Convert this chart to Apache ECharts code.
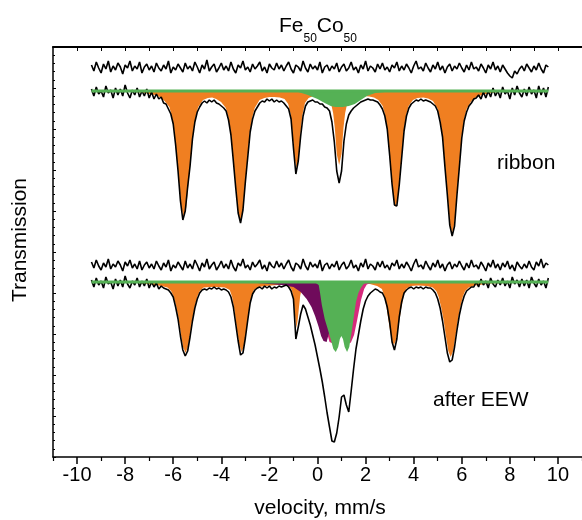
<!DOCTYPE html>
<html>
<head>
<meta charset="utf-8">
<script src="https://cdn.jsdelivr.net/npm/echarts@6/dist/echarts.min.js"></script>
<style>
html,body{margin:0;padding:0;background:#fff;}
#chart{width:582px;height:520px;}
</style>
</head>
<body>
<div id="chart"></div>
<script>
// ---------------- DATA ----------------
// channel velocities (mm/s)
const velocity = [
-9.4,-9.3,-9.2,-9.1,-9.0,-8.9,-8.8,-8.7,-8.6,-8.5,
-8.4,-8.3,-8.2,-8.1,-8.0,-7.9,-7.8,-7.7,-7.6,-7.5,
-7.4,-7.3,-7.2,-7.1,-7.0,-6.9,-6.8,-6.7,-6.6,-6.5,
-6.4,-6.3,-6.2,-6.1,-6.0,-5.9,-5.8,-5.7,-5.6,-5.5,
-5.4,-5.3,-5.2,-5.1,-5.0,-4.9,-4.8,-4.7,-4.6,-4.5,
-4.4,-4.3,-4.2,-4.1,-4.0,-3.9,-3.8,-3.7,-3.6,-3.5,
-3.4,-3.3,-3.2,-3.1,-3.0,-2.9,-2.8,-2.7,-2.6,-2.5,
-2.4,-2.3,-2.2,-2.1,-2.0,-1.9,-1.8,-1.7,-1.6,-1.5,
-1.4,-1.3,-1.2,-1.1,-1.0,-0.9,-0.8,-0.7,-0.6,-0.5,
-0.4,-0.3,-0.2,-0.1,0.0,0.1,0.2,0.3,0.4,0.5,
0.6,0.7,0.8,0.9,1.0,1.1,1.2,1.3,1.4,1.5,
1.6,1.7,1.8,1.9,2.0,2.1,2.2,2.3,2.4,2.5,
2.6,2.7,2.8,2.9,3.0,3.1,3.2,3.3,3.4,3.5,
3.6,3.7,3.8,3.9,4.0,4.1,4.2,4.3,4.4,4.5,
4.6,4.7,4.8,4.9,5.0,5.1,5.2,5.3,5.4,5.5,
5.6,5.7,5.8,5.9,6.0,6.1,6.2,6.3,6.4,6.5,
6.6,6.7,6.8,6.9,7.0,7.1,7.2,7.3,7.4,7.5,
7.6,7.7,7.8,7.9,8.0,8.1,8.2,8.3,8.4,8.5,
8.6,8.7,8.8,8.9,9.0,9.1,9.2,9.3,9.4,9.5,
9.6];

// relative transmission (arb. units, spectra vertically offset)
const ribbonBaseline = 366;
const eewBaseline = 175;

const ribbonCounts = [
368,361,370,363,366,360,371,364,367,359,
369,362,368,361,372,364,359,367,362,369,
360,366,361,368,359,365,358,363,358,360,
354,353,348,343,333,312,286,256,237,246,
270,291,318,335,345,350,354,356,354,357,
355,357,354,353,351,349,346,337,322,296,
269,244,234,247,275,300,325,338,346,350,
354,356,355,358,356,358,355,357,355,356,
354,351,348,338,309,283,296,321,341,351,
355,356,357,355,355,353,353,350,349,346,
335,315,286,274,286,316,333,342,346,349,
351,353,355,356,357,358,357,357,356,355,
352,348,341,328,302,273,252,251,272,299,
326,341,349,353,355,357,356,358,356,357,
356,355,353,351,346,335,320,290,262,232,
221,231,262,290,319,336,345,351,354,358,
359,362,358,365,359,366,360,369,361,366,
359,370,363,366,358,369,362,371,364,360,
368,361,370,363,367,359,371,362,369,360,
370];

const ribbonResidual = [
392,386,395,389,384,393,388,396,385,391,
387,394,390,383,392,389,396,386,391,388,
395,384,390,393,387,391,385,394,389,386,
392,388,396,384,390,387,393,389,385,394,
388,391,386,395,390,384,392,388,397,386,
390,393,385,389,394,387,391,386,395,388,
384,392,389,396,387,390,385,393,388,391,
395,386,390,384,393,389,387,394,388,392,
386,391,395,388,384,392,390,386,396,389,
385,393,388,391,387,395,384,390,392,386,
391,388,394,385,390,393,386,389,395,387,
390,384,392,388,396,386,391,389,385,393,
388,394,387,390,385,392,389,395,386,391,
387,393,389,384,391,396,388,390,386,394,
389,385,392,388,395,387,391,384,390,393,
386,391,388,394,389,385,392,387,395,388,
390,386,393,389,384,392,388,395,387,391,
385,392,388,384,381,379,386,383,388,391,
386,393,389,385,391,387,394,388,384,392,
390];

const eewCounts = [
177,170,179,172,176,169,180,173,175,168,
178,171,177,170,181,173,169,176,172,179,
170,176,171,178,169,175,170,174,168,171,
169,168,167,164,160,150,138,121,107,101,
106,120,136,149,158,164,167,168,167,169,
168,170,168,169,167,168,167,165,160,150,
133,116,102,104,119,137,154,163,167,169,
170,168,171,169,171,168,170,169,171,170,
171,172,170,166,158,118,130,143,152,148,
140,132,122,112,100,88,75,60,44,30,
16,15,24,40,60,62,52,45,66,88,
108,122,136,148,156,161,164,166,168,167,
165,164,159,150,135,115,107,118,140,155,
164,167,169,170,168,170,169,170,168,170,
169,169,167,164,158,149,136,120,104,95,
97,110,127,142,153,161,166,168,170,170,
175,170,178,172,176,169,179,173,170,177,
172,179,171,176,169,180,173,177,170,178,
171,177,169,180,174,170,178,172,176,169,
179];

const eewResidual = [
195,189,197,191,187,194,190,198,188,193,
190,196,192,186,195,191,197,189,193,188,
196,187,192,195,189,193,188,196,191,187,
194,190,197,186,192,189,195,191,187,196,
189,193,188,197,192,186,194,190,198,188,
192,195,187,191,196,189,193,188,197,190,
186,194,191,198,189,192,187,195,190,193,
197,188,192,186,195,191,189,196,190,194,
188,193,197,190,186,194,192,188,198,191,
187,195,190,193,189,197,186,192,194,188,
193,190,196,187,192,195,188,191,197,189,
192,186,194,190,198,188,193,191,187,195,
190,196,189,192,187,194,191,197,188,193,
189,195,191,186,193,198,190,192,188,196,
191,187,194,190,197,189,193,186,192,195,
188,193,190,196,191,187,194,189,197,190,
192,188,195,191,186,194,190,197,189,193,
187,194,190,196,188,192,186,195,191,188,
193,189,196,190,187,195,191,198,189,194,
192];

// fitted subspectra: [velocity, transmission]
const ribbonSextet = [
[-9.4,366],[-7.8,365.5],[-7.2,364],[-6.76,362],[-6.56,360],[-6.36,356],[-6.16,350],[-6.06,341],[-5.96,327],[-5.86,300],[-5.76,275],[-5.66,249],[-5.56,240],[-5.46,249],[-5.36,275],[-5.26,300],[-5.16,327],[-5.06,341],[-4.96,350],[-4.76,357],[-4.56,359],[-4.38,359.5],
[-4.21,358],[-4.01,355],[-3.81,349],[-3.71,340],[-3.61,326],[-3.51,299],[-3.41,273],[-3.31,246],[-3.21,237],[-3.11,246],[-3.01,273],[-2.91,299],[-2.81,326],[-2.71,340],[-2.61,349],[-2.41,357],[-2.21,359],[-2.0,360],
[-1.8,360],[-1.57,359.5],[-1.37,358],[-1.22,353],[-1.12,343],[-1.05,328],[-0.97,301],[-0.87,289],[-0.77,301],[-0.69,328],[-0.62,343],[-0.52,354],[-0.37,359],[-0.17,361],[0.0,362],
[0.2,362],[0.4,360],[0.55,355],[0.65,344],[0.72,329],[0.8,303],[0.9,292],[1.0,303],[1.08,329],[1.15,344],[1.25,355],[1.4,360],[1.6,361],[1.9,361],
[2.15,360.5],[2.35,359.5],[2.53,357],[2.71,351],[2.8,343],[2.89,330],[2.98,306],[3.07,282],[3.16,258],[3.25,250],[3.34,258],[3.43,282],[3.52,306],[3.61,330],[3.7,343],[3.79,351],[3.97,357],[4.15,359],[4.4,359.5],
[4.6,358.5],[4.8,356],[5.0,348],[5.1,338],[5.2,322],[5.3,292],[5.4,264],[5.5,234],[5.6,224],[5.7,234],[5.8,264],[5.9,292],[6.0,322],[6.1,338],[6.2,348],[6.4,356],[6.6,360],[7.0,363],[7.5,365],[9.6,366]];

const ribbonDoublet = [
[-1.2,366],[-0.8,365],[-0.4,362],[0.0,358],[0.3,354],[0.55,351],[0.75,350],[1.05,350],[1.3,351],[1.55,353],[1.8,357],[2.05,361],[2.4,364],[3.0,365.5],[3.5,366]];

const eewSextet = [
[-9.4,175],[-7.5,174],[-6.9,172.5],[-6.49,171],[-6.24,169.5],[-6.09,166],[-5.99,161],[-5.89,152],[-5.79,140],[-5.69,124],[-5.59,110],[-5.49,104],[-5.39,110],[-5.29,124],[-5.19,140],[-5.09,152],[-4.99,161],[-4.89,166],[-4.74,169.5],[-4.45,170],
[-4.15,170],[-3.85,169.5],[-3.65,167],[-3.55,160],[-3.45,146],[-3.35,127],[-3.25,112],[-3.15,105],[-3.05,112],[-2.95,127],[-2.85,146],[-2.75,160],[-2.65,167],[-2.45,170],[-2.15,171],
[-1.67,172],[-1.37,172],[-1.17,170.5],[-1.07,167],[-1.02,161],[-0.97,150],[-0.92,138],[-0.87,129],[-0.82,138],[-0.77,150],[-0.72,161],[-0.67,167],[-0.57,171],[-0.37,172.5],[0.0,173.5],[1.5,173.5],
[2.18,173],[2.48,171],[2.68,168],[2.78,161],[2.88,148.5],[2.98,132],[3.08,118],[3.18,112],[3.28,118],[3.38,132],[3.48,148.5],[3.58,161],[3.68,168],[3.88,171],[4.18,171.5],
[4.54,171],[4.79,169.5],[4.94,166],[5.04,160],[5.14,150],[5.24,137.5],[5.34,121],[5.44,106],[5.54,100],[5.64,106],[5.74,121],[5.84,137.5],[5.94,150],[6.04,160],[6.14,166],[6.29,169.5],[6.54,171.5],[7.2,173.5],[9.6,175]];

const eewMagenta = [
[-0.6,175],[-0.2,172],[0.1,162],[0.3,140],[0.42,122],[0.5,115],[0.6,114],[0.75,119],[0.9,124],[1.0,126],[1.12,122],[1.25,116],[1.38,114],[1.46,116],[1.52,122],[1.65,137],[1.81,157],[1.94,168],[2.05,172.5],[2.3,174.5],[2.8,175]];

const eewPurple = [
[-3.2,175],[-2.5,174],[-2.0,173],[-1.5,172],[-1.0,170],[-0.7,165],[-0.45,158],[-0.25,150],[-0.1,141],[0.05,130],[0.15,121],[0.25,116],[0.38,115],[0.45,117],[0.52,128],[0.6,145],[0.75,162],[0.95,171],[1.3,174],[2.0,175]];

const eewDoublet = [
[-1.0,175],[-0.1,174.5],[0.05,172],[0.1,165],[0.18,152],[0.3,138],[0.45,126],[0.57,116],[0.66,108],[0.76,105],[0.86,110],[0.93,118],[0.99,121],[1.06,118],[1.13,110],[1.23,105],[1.32,110],[1.42,125],[1.52,142],[1.6,155],[1.7,164],[1.8,169],[1.9,172.5],[2.0,174.5],[2.5,175]];

// axis ticks
const xTickLabels = [-10,-8,-6,-4,-2,0,2,4,6,8,10];
const xMinorTicks = [-11,-9,-7,-5,-3,-1,1,3,5,7,9,11];
const xTopTicks = [-10,-9,-8,-7,-6,-5,-4,-3,-2,-1,0,1,2,3,4,5,6,7,8,9,10];

// ---------------- CHART ----------------
const FONT = "'Liberation Sans', Arial, sans-serif";
const ORANGE = '#f07f21';
const GREEN = '#55b155';
const PURPLE = '#6f0b5b';
const PINK = '#d62a7c';

function pairs(xs, ys) { return xs.map((x, i) => [x, ys[i]]); }

function fillSeries(name, data, color, base, z) {
  return {
    name: name, type: 'line', data: data, symbol: 'none', showSymbol: false,
    lineStyle: { width: 0, opacity: 0 },
    areaStyle: { color: color, opacity: 1, origin: base },
    z: z, silent: true
  };
}
function dataSeries(name, ys, width) {
  return {
    name: name, type: 'line', data: pairs(velocity, ys), symbol: 'none', showSymbol: false,
    lineStyle: { color: '#000', width: width }, z: 10, silent: true
  };
}
function baseSeries(name, base) {
  return {
    name: name, type: 'line',
    data: [[velocity[0], base], [velocity[velocity.length - 1], base]],
    symbol: 'none', lineStyle: { color: GREEN, width: 3 }, z: 12, silent: true
  };
}
function txt(text, x, y, size, extra) {
  return Object.assign({ type: 'text', x: x, y: y, silent: true,
    style: { text: text, fontSize: size, fontFamily: FONT, fill: '#000', align: 'left', verticalAlign: 'middle' } }, extra || {});
}

const chart = echarts.init(document.getElementById('chart'), null, { renderer: 'canvas' });
const axisColor = '#000';
const option = {
  animation: false,
  backgroundColor: '#fff',
  grid: { left: 53, top: 47, width: 531, height: 410 },
  xAxis: [
    {
      type: 'value', min: -11, max: 11, position: 'bottom',
      axisLine: { show: true, onZero: false, lineStyle: { color: axisColor, width: 1.5 } },
      axisTick: { show: true, customValues: xTickLabels, length: 7, lineStyle: { color: axisColor, width: 1.5 } },
      axisLabel: { show: true, customValues: xTickLabels, fontSize: 20, color: '#000', fontFamily: FONT, margin: 8 },
      splitLine: { show: false }
    },
    {
      type: 'value', min: -11, max: 11, position: 'bottom',
      axisLine: { show: false, onZero: false },
      axisTick: { show: true, customValues: xMinorTicks, length: 4, lineStyle: { color: axisColor, width: 1.2 } },
      axisLabel: { show: false }, splitLine: { show: false }
    },
    {
      type: 'value', min: -11, max: 11, position: 'top',
      axisLine: { show: true, onZero: false, lineStyle: { color: axisColor, width: 2 } },
      axisTick: { show: true, inside: true, customValues: xTopTicks, length: 4, lineStyle: { color: axisColor, width: 1 } },
      axisLabel: { show: false }, splitLine: { show: false }
    }
  ],
  yAxis: [{
    type: 'value', min: 0, max: 410, interval: 41, position: 'left',
    axisLine: { show: true, onZero: false, lineStyle: { color: axisColor, width: 1.5 } },
    axisTick: { show: true, inside: true, length: 3, lineStyle: { color: axisColor, width: 1 } },
    minorTick: { show: true, splitNumber: 5, length: 2, lineStyle: { color: axisColor, width: 1 } },
    axisLabel: { show: false }, splitLine: { show: false }
  }],
  graphic: [
    txt('Fe', 279, 26, 21),
    txt('50', 303.5, 39, 12),
    txt('Co', 316.8, 26, 21),
    txt('50', 343.6, 39, 12),
    txt('ribbon', 497, 163, 21),
    txt('after EEW', 433, 400, 21),
    { type: 'text', x: 20, y: 240, rotation: Math.PI / 2, silent: true,
      style: { text: 'Transmission', fontSize: 21, fontFamily: FONT, fill: '#000', align: 'center', verticalAlign: 'middle' } },
    { type: 'text', x: 320, y: 508, silent: true,
      style: { text: 'velocity, mm/s', fontSize: 21, fontFamily: FONT, fill: '#000', align: 'center', verticalAlign: 'middle' } }
  ],
  series: [
    fillSeries('ribbon sextet', ribbonSextet, ORANGE, ribbonBaseline, 2),
    fillSeries('ribbon doublet', ribbonDoublet, GREEN, ribbonBaseline, 3),
    fillSeries('EEW sextet', eewSextet, ORANGE, eewBaseline, 2),
    fillSeries('EEW magenta', eewMagenta, PINK, eewBaseline, 3),
    fillSeries('EEW purple', eewPurple, PURPLE, eewBaseline, 4),
    fillSeries('EEW doublet', eewDoublet, GREEN, eewBaseline, 5),
    dataSeries('ribbon residual', ribbonResidual, 1.6),
    dataSeries('ribbon spectrum', ribbonCounts, 1.6),
    dataSeries('EEW residual', eewResidual, 1.6),
    dataSeries('EEW spectrum', eewCounts, 1.6),
    baseSeries('ribbon baseline', ribbonBaseline),
    baseSeries('EEW baseline', eewBaseline)
  ]
};
chart.setOption(option);
</script>
</body>
</html>
